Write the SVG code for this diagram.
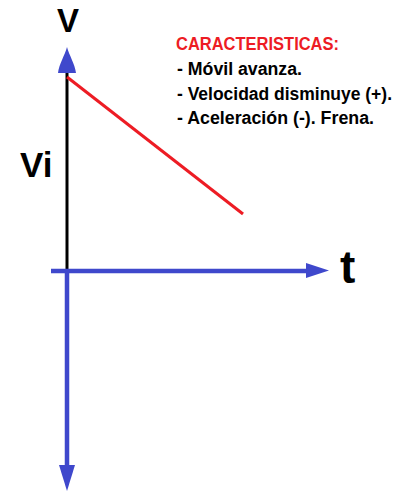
<svg xmlns="http://www.w3.org/2000/svg" width="403" height="494" viewBox="0 0 403 494">
<style>
.lbl{font-family:"Liberation Sans",Arial,sans-serif;font-weight:bold;fill:#000}
.info{font-family:"Liberation Sans",Arial,sans-serif;font-weight:bold;font-size:18px;fill:#000}
.blue{stroke:#3f48cc;stroke-width:4.5;fill:none}
</style>
<rect width="403" height="494" fill="#fff"/>
<g id="axes">
  <line x1="67" y1="72" x2="67" y2="271" stroke="#000" stroke-width="3"/>
  <line class="blue" x1="51" y1="271" x2="310" y2="271"/>
  <line class="blue" x1="67" y1="271" x2="67" y2="468"/>
  <path d="M67,47 C69,55 75,64 76,73 L58,73 C59,64 65,55 67,47 Z" fill="#3f48cc"/>
  <path d="M329,270.5 L306,263 L306,278 Z" fill="#3f48cc"/>
  <path d="M67,491 L59,465 L75,465 Z" fill="#3f48cc"/>
</g>
<g id="graph">
  <line x1="67" y1="77" x2="243" y2="214" stroke="#ed1c24" stroke-width="3"/>
</g>
<g id="labels">
  <text class="lbl" x="68" y="32" font-size="33" text-anchor="middle">V</text>
  <text class="lbl" x="20" y="177" font-size="35">Vi</text>
  <text class="lbl" x="340" y="283" font-size="46">t</text>
</g>
<g id="caracteristicas">
  <text class="info" x="176" y="50" style="fill:#ed1c24" textLength="163" lengthAdjust="spacingAndGlyphs">CARACTERISTICAS:</text>
  <text class="info" x="177" y="75" textLength="125" lengthAdjust="spacingAndGlyphs">- Móvil avanza.</text>
  <text class="info" x="177" y="100" textLength="215" lengthAdjust="spacingAndGlyphs">- Velocidad disminuye (+).</text>
  <text class="info" x="177" y="124" textLength="197" lengthAdjust="spacingAndGlyphs">- Aceleración (-). Frena.</text>
</g>
</svg>
